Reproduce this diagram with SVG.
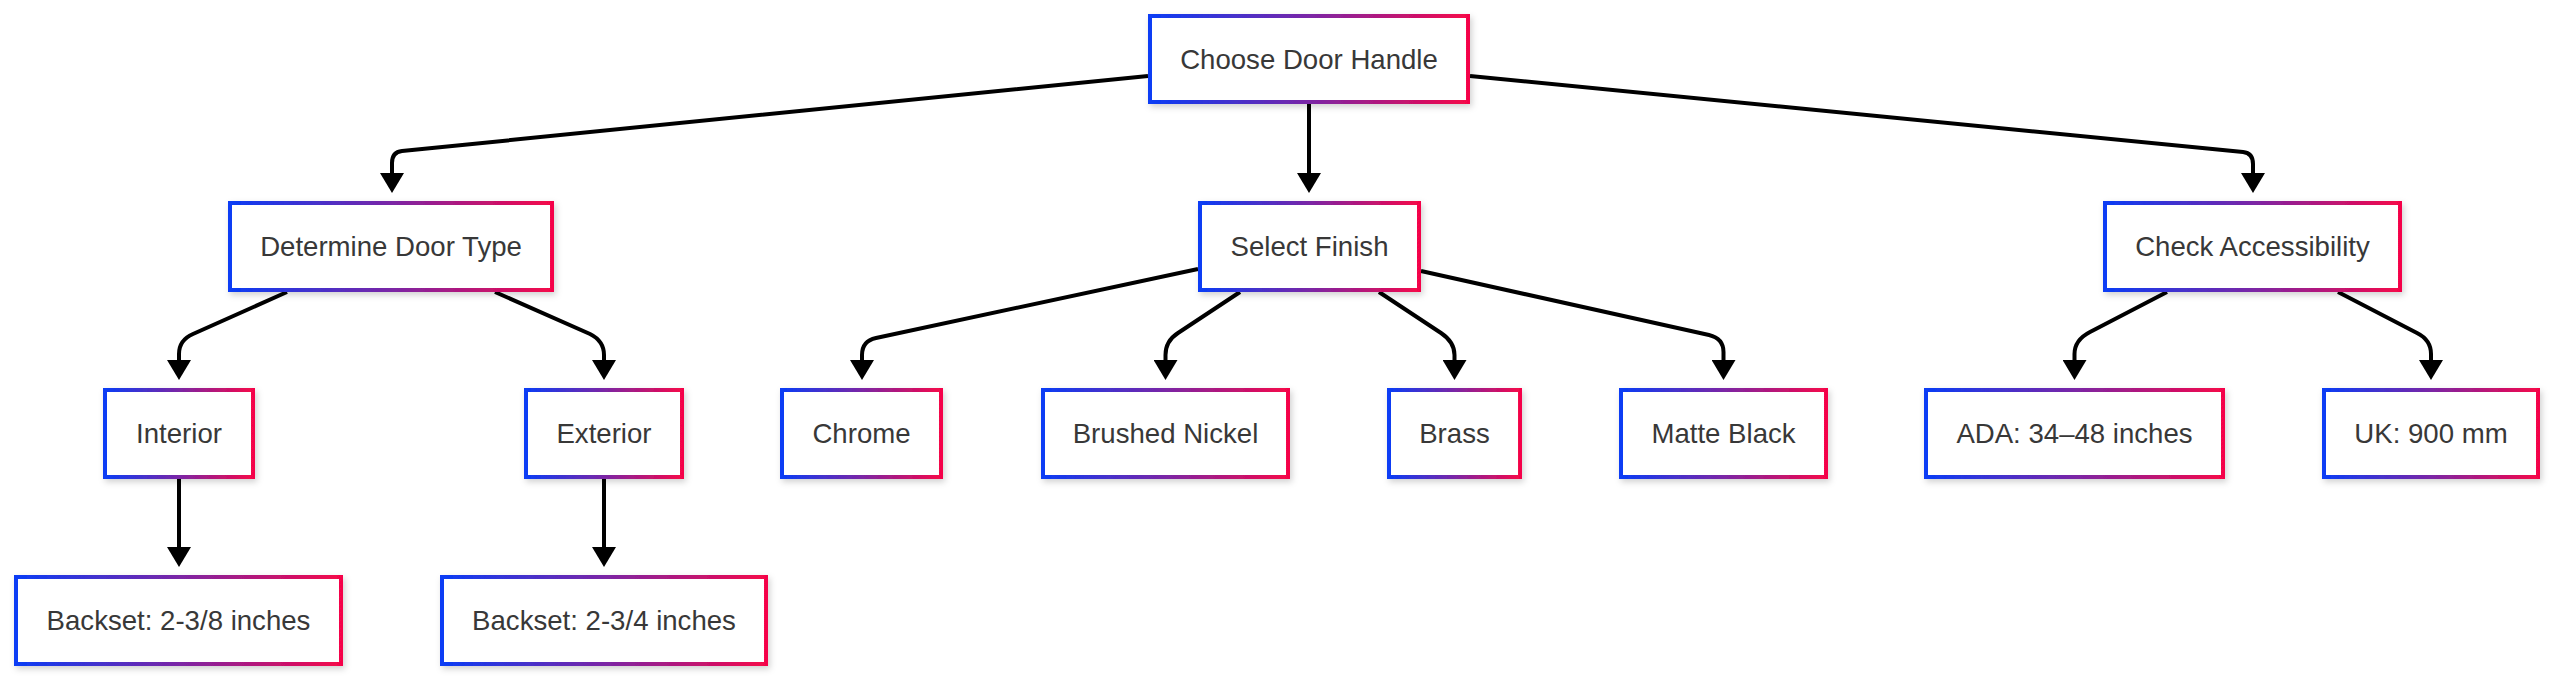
<svg xmlns="http://www.w3.org/2000/svg" width="2560" height="683" viewBox="0 0 2560 683">
<defs>
  <linearGradient id="grad" x1="0" y1="0" x2="1" y2="0">
    <stop offset="0" stop-color="#0a3cf5"/>
    <stop offset="0.5" stop-color="#7a26a6"/>
    <stop offset="1" stop-color="#f5064a"/>
  </linearGradient>
  <filter id="shadow" x="-10%" y="-20%" width="120%" height="150%">
    <feDropShadow dx="2" dy="3" stdDeviation="3" flood-color="#000" flood-opacity="0.18"/>
  </filter>
  <marker id="arrow" viewBox="0 0 20 24" markerUnits="userSpaceOnUse" markerWidth="20" markerHeight="24" refX="0" refY="12" orient="auto">
    <path d="M0,0 L20,12 L0,24 z" fill="#000"/>
  </marker>
</defs>
<style>
  .box { fill: #ffffff; stroke: url(#grad); stroke-width: 4; filter: url(#shadow); }
  .lbl { font-family: "Liberation Sans", Arial, sans-serif; font-size: 27.6px; fill: #383838; text-anchor: middle; }
  .edge { fill: none; stroke: #000; stroke-width: 4; marker-end: url(#arrow); }
</style>
<rect width="2560" height="683" fill="#ffffff"/>
<g id="connectors">
  <path class="edge" d="M1148,76 L402,151 Q392,152 392,163 L392,173"/>
  <path class="edge" d="M1309,104 L1309,173"/>
  <path class="edge" d="M1470,76 L2243,152 Q2253,153 2253,164 L2253,173"/>
  <path class="edge" d="M287,292 L193,334 Q179,340 179,354 L179,360"/>
  <path class="edge" d="M495,292 L590,334 Q604,341 604,355 L604,360"/>
  <path class="edge" d="M1198,269 L876,338 Q862,341 862,355 L862,360"/>
  <path class="edge" d="M1240,292 L1178,333 Q1165.5,341 1165.5,355 L1165.5,360"/>
  <path class="edge" d="M1379,292 L1441,333 Q1454.5,342 1454.5,355 L1454.5,360"/>
  <path class="edge" d="M1421,271 L1709,335 Q1723.5,338.5 1723.5,352 L1723.5,360"/>
  <path class="edge" d="M2167,292 L2090,332 Q2074.5,340 2074.5,354 L2074.5,360"/>
  <path class="edge" d="M2338,292 L2417,333 Q2431,340 2431,354 L2431,360"/>
  <path class="edge" d="M179,478 L179,547"/>
  <path class="edge" d="M604,478 L604,547"/>
</g>
<g id="node-root">
  <rect class="box" x="1150" y="16" width="318" height="86"/>
  <text class="lbl" x="1309" y="69">Choose Door Handle</text>
</g>
<g id="node-determine">
  <rect class="box" x="230" y="203" width="322" height="87"/>
  <text class="lbl" x="391" y="256">Determine Door Type</text>
</g>
<g id="node-select">
  <rect class="box" x="1200" y="203" width="219" height="87"/>
  <text class="lbl" x="1309.5" y="256">Select Finish</text>
</g>
<g id="node-check">
  <rect class="box" x="2105" y="203" width="295" height="87"/>
  <text class="lbl" x="2252.5" y="256">Check Accessibility</text>
</g>
<g id="node-interior">
  <rect class="box" x="105" y="390" width="148" height="87"/>
  <text class="lbl" x="179" y="443">Interior</text>
</g>
<g id="node-exterior">
  <rect class="box" x="526" y="390" width="156" height="87"/>
  <text class="lbl" x="604" y="443">Exterior</text>
</g>
<g id="node-chrome">
  <rect class="box" x="782" y="390" width="159" height="87"/>
  <text class="lbl" x="861.5" y="443">Chrome</text>
</g>
<g id="node-brushed">
  <rect class="box" x="1043" y="390" width="245" height="87"/>
  <text class="lbl" x="1165.5" y="443">Brushed Nickel</text>
</g>
<g id="node-brass">
  <rect class="box" x="1389" y="390" width="131" height="87"/>
  <text class="lbl" x="1454.5" y="443">Brass</text>
</g>
<g id="node-matte">
  <rect class="box" x="1621" y="390" width="205" height="87"/>
  <text class="lbl" x="1723.5" y="443">Matte Black</text>
</g>
<g id="node-ada">
  <rect class="box" x="1926" y="390" width="297" height="87"/>
  <text class="lbl" x="2074.5" y="443">ADA: 34–48 inches</text>
</g>
<g id="node-uk">
  <rect class="box" x="2324" y="390" width="214" height="87"/>
  <text class="lbl" x="2431" y="443">UK: 900 mm</text>
</g>
<g id="node-backset1">
  <rect class="box" x="16" y="577" width="325" height="87"/>
  <text class="lbl" x="178.5" y="630">Backset: 2-3/8 inches</text>
</g>
<g id="node-backset2">
  <rect class="box" x="442" y="577" width="324" height="87"/>
  <text class="lbl" x="604" y="630">Backset: 2-3/4 inches</text>
</g>
</svg>
